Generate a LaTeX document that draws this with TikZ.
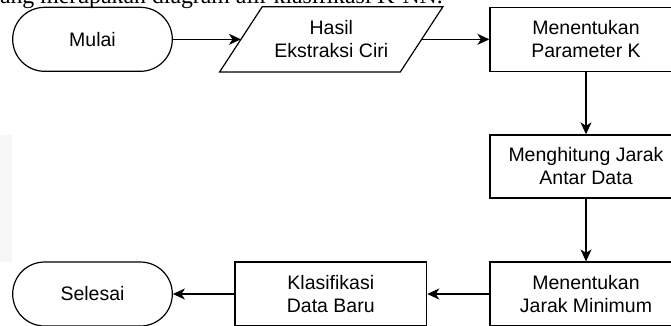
\documentclass[tikz,border=0pt]{standalone}
\usepackage{fontspec}
\setmainfont{Liberation Sans}
\newfontfamily\pageserif{Liberation Serif}
\usetikzlibrary{arrows.meta}

\begin{document}
\begin{tikzpicture}[x=1pt,y=-1pt]
\clip (0,0) rectangle (671,325);
\fill[gray!7] (0,135) rectangle (12,262);
\node[anchor=base east,inner sep=0,font=\pageserif\fontsize{23.8}{28}\selectfont] (kalimat) at (443,3.8) {yang merupakan diagram alir klasifikasi K-NN.};

\begin{scope}[every node/.style={draw,line width=1.2pt,minimum height=64pt,align=center,inner sep=0,font=\fontsize{19.5}{23}\selectfont}]
    \node[rounded corners=31.9pt,minimum width=159.6pt] (mulai) at (92.5,39.3) {Mulai};
    \node[draw=none,minimum width=179.5pt] (hasil) at (331.3,39.3) {Hasil\\Ekstraksi Ciri};
    \node[minimum width=192pt] (param) at (586,39.3) {Menentukan\\Parameter K};
    \node[minimum width=192pt,minimum height=63pt] (hitung) at (586,166.4) {Menghitung Jarak\\Antar Data};
    \node[minimum width=192pt] (jarak) at (586,294) {Menentukan\\Jarak Minimum};
    \node[minimum width=191.7pt] (klasifikasi) at (330.8,294) {Klasifikasi\\Data Baru};
    \node[rounded corners=31.9pt,minimum width=159.6pt] (selesai) at (92.5,294) {Selesai};
\end{scope}

% input/output shape round the text
\draw[line width=1.2pt] ([xshift=-21.3pt]hasil.south west) -- ([xshift=21.3pt]hasil.north west)
    -- ([xshift=21.3pt]hasil.north east) -- ([xshift=-21.3pt]hasil.south east) -- cycle;

\begin{scope}[>={Stealth[length=12pt,width=11pt,inset=3.5pt]},
              every edge/.style={draw,line width=1.2pt}]
    \path [->] (mulai) edge (hasil);
    \path [->] (hasil) edge (param);
    \path [->] (param) edge (hitung);
    \path [->] (hitung) edge (jarak);
    \path [->] (jarak) edge (klasifikasi);
    \path [->] (klasifikasi) edge (selesai);
\end{scope}
\end{tikzpicture}
\end{document}
